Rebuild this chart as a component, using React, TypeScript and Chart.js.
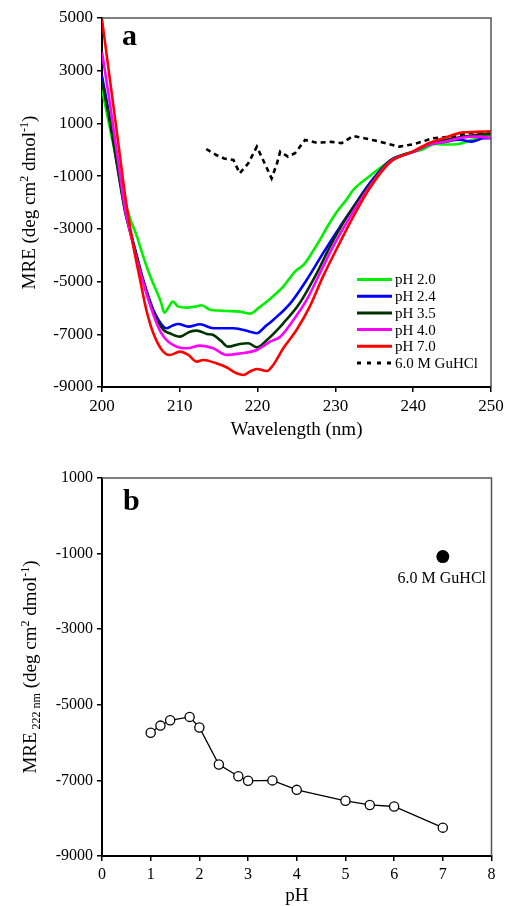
import React, { useEffect, useRef } from "react";
import { Chart, registerables } from "chart.js";

Chart.register(...registerables);

const SERIF = "'Liberation Serif', 'Times New Roman', 'DejaVu Serif', serif";

// ---------------- Panel a: CD spectra ----------------
const PH20_NM = [200, 201, 202, 203, 203.6, 204.5, 205.3, 206.2, 207.2, 207.6, 208, 208.5, 209.1, 209.8, 210.9, 212, 212.8, 213.9, 215, 216, 217.7, 219, 220.3, 221.2, 222.2, 223.3, 224.8, 225.9, 227, 228, 229, 230.2, 231.4, 232.3, 234.3, 237.2, 239, 241.1, 242.8, 244, 245.8, 247.5, 249, 250];
const PH20_MRE = [2300, 850, -600, -2000, -2600, -3300, -4050, -4800, -5500, -5800, -6180, -6000, -5760, -5950, -5990, -5950, -5900, -6070, -6100, -6115, -6140, -6220, -5960, -5760, -5500, -5190, -4620, -4370, -3900, -3420, -2900, -2350, -1900, -1520, -1020, -390, -150, 0, 220, 200, 220, 370, 500, 560];

const PH24_NM = [200, 201, 202, 203, 203.6, 204.5, 205.3, 206.6, 207.9, 208.3, 209, 209.8, 211.1, 212.6, 214.3, 216.9, 219, 219.9, 221, 222, 224.2, 226.3, 228.4, 230.6, 231.9, 234.4, 237, 240, 242, 244, 246, 247.5, 249, 250];
const PH24_MRE = [2800, 1200, -600, -2350, -3043, -4055, -4940, -6077, -6710, -6773, -6680, -6608, -6710, -6620, -6773, -6773, -6900, -6962, -6700, -6457, -5825, -4940, -3930, -2917, -2348, -1272, -420, -80, 200, 300, 380, 308, 436, 440];

const PH35_NM = [200, 201, 202, 203, 203.6, 204.5, 205.3, 206.6, 207.9, 208.7, 210, 211.3, 212.2, 213.5, 214.3, 215.3, 216.2, 217.7, 218.8, 219.9, 221.2, 223.3, 225.4, 227.6, 229.3, 231.5, 233.6, 234.4, 237, 240, 242, 245, 248, 250];
const PH35_MRE = [2600, 1100, -700, -2400, -3100, -4100, -4980, -6150, -6835, -6962, -7090, -6900, -6862, -6988, -7026, -7250, -7470, -7367, -7340, -7495, -7215, -6583, -5825, -4686, -3675, -2538, -1651, -1335, -420, -70, 200, 420, 560, 600];

const PH40_NM = [200, 201, 202, 203, 203.6, 204.5, 205.3, 206.6, 207.6, 208.5, 209.6, 210.9, 212.6, 214.3, 216, 217.7, 219.9, 221.6, 222.9, 224.6, 226.3, 228, 229.7, 231.9, 234.4, 237, 240, 242, 244.1, 246, 248, 250];
const PH40_MRE = [3700, 1800, -300, -2300, -3100, -4200, -5050, -6250, -6950, -7279, -7470, -7530, -7431, -7530, -7785, -7730, -7595, -7280, -7090, -6457, -5698, -4686, -3675, -2538, -1400, -450, -80, 200, 308, 450, 500, 450];

const PH70_NM = [200, 201, 202, 203, 204, 204.9, 205.7, 206.6, 207.7, 208.7, 210, 211.1, 212.2, 213, 214.7, 216, 217.3, 218.2, 219, 219.9, 221.2, 222, 223.3, 225, 226.7, 228.4, 230.2, 232.3, 234.4, 237, 240, 242, 244, 246.2, 248, 250];
const PH70_MRE = [4950, 2700, 460, -1800, -3600, -4940, -6077, -6962, -7595, -7785, -7658, -7785, -8038, -7974, -8100, -8250, -8480, -8544, -8418, -8316, -8392, -8164, -7530, -6836, -5952, -4814, -3737, -2538, -1461, -480, -60, 250, 450, 650, 680, 700];

const GUHCL_NM = [213.4, 214.7, 215.7, 216.9, 217.7, 218.8, 219.9, 220.9, 221.8, 222.5, 222.9, 223.9, 224.8, 226.1, 227.6, 229.5, 230.8, 232.3, 235.1, 238.2, 240.2, 242.5, 245, 247.7, 250];
const GUHCL_MRE = [30, -200, -330, -387, -893, -512, 118, -512, -1083, -512, -70, -262, -133, 372, 270, 300, 250, 524, 350, 120, 220, 436, 497, 660, 630];

const A_LABELS = ["pH 2.0", "pH 2.4", "pH 3.5", "pH 4.0", "pH 7.0", "6.0 M GuHCl"];
const A_COLORS = ["#00f000", "#0000ff", "#003300", "#ff00ff", "#ff0000", "#000000"];
const A_X_TICKS = [200, 210, 220, 230, 240, 250];
const A_Y_TICKS = [-9000, -7000, -5000, -3000, -1000, 1000, 3000, 5000];

// ---------------- Panel b: MRE at 222 nm vs pH ----------------
const B_PH = [1.0, 1.2, 1.4, 1.8, 2.0, 2.4, 2.8, 3.0, 3.5, 4.0, 5.0, 5.5, 6.0, 7.0];
const B_MRE222 = [-5740, -5550, -5410, -5320, -5600, -6580, -6890, -7010, -7000, -7250, -7540, -7650, -7690, -8250];
const B_GUHCL_PH = [7.0];
const B_GUHCL_MRE222 = [-1080];
const B_GUHCL_LABEL = "6.0 M GuHCl";
const B_X_TICKS = [0, 1, 2, 3, 4, 5, 6, 7, 8];
const B_Y_TICKS = [-9000, -7000, -5000, -3000, -1000, 1000];

type Seg = { t: string; size: number; dy?: number };

function drawRotatedRich(ctx: CanvasRenderingContext2D, segs: Seg[], baselineX: number, cy: number) {
  ctx.save();
  ctx.translate(baselineX, cy);
  ctx.rotate(-Math.PI / 2);
  ctx.textAlign = "left";
  ctx.textBaseline = "alphabetic";
  ctx.fillStyle = "#000";
  const widths = segs.map((s) => {
    ctx.font = `${s.size}px ${SERIF}`;
    return ctx.measureText(s.t).width;
  });
  const total = widths.reduce((a, b) => a + b, 0);
  let x = -total / 2;
  segs.forEach((s, i) => {
    ctx.font = `${s.size}px ${SERIF}`;
    ctx.fillText(s.t, x, s.dy || 0);
    x += widths[i];
  });
  ctx.restore();
}

function frameBorders(chart: any) {
  const { ctx, chartArea } = chart;
  ctx.save();
  ctx.strokeStyle = "#555";
  ctx.lineWidth = 1.5;
  ctx.beginPath();
  ctx.moveTo(chartArea.left, chartArea.top);
  ctx.lineTo(chartArea.right, chartArea.top);
  ctx.lineTo(chartArea.right, chartArea.bottom);
  ctx.stroke();
  ctx.restore();
}

function axisOpts(ticks: number[], size: number, fitKey: "width" | "height", fitVal: number) {
  return {
    type: "linear" as const,
    min: ticks[0],
    max: ticks[ticks.length - 1],
    afterBuildTicks: (s: any) => {
      s.ticks = ticks.map((v) => ({ value: v }));
    },
    afterFit: (s: any) => {
      s[fitKey] = fitVal;
    },
    grid: {
      display: true,
      drawOnChartArea: false,
      drawTicks: true,
      tickLength: 5,
      color: "#000",
      lineWidth: 1.5,
    },
    border: { display: true, color: "#000", width: 2 },
    ticks: {
      color: "#000",
      font: { family: SERIF, size },
      padding: 4,
      maxRotation: 0,
      autoSkip: false,
      callback: (v: any) => String(v),
    },
    title: { display: false },
  };
}

function makeChartA(canvas: HTMLCanvasElement) {
  const series = [
    { nm: PH70_NM, mre: PH70_MRE, i: 4 },
    { nm: PH40_NM, mre: PH40_MRE, i: 3 },
    { nm: PH35_NM, mre: PH35_MRE, i: 2 },
    { nm: PH24_NM, mre: PH24_MRE, i: 1 },
    { nm: PH20_NM, mre: PH20_MRE, i: 0 },
  ];
  const datasets: any[] = series.map((s) => ({
    label: A_LABELS[s.i],
    data: s.nm.map((x, k) => ({ x, y: s.mre[k] })),
    borderColor: A_COLORS[s.i],
    borderWidth: 2.6,
    pointRadius: 0,
    fill: false,
    cubicInterpolationMode: "monotone",
  }));
  datasets.push({
    label: A_LABELS[5],
    data: GUHCL_NM.map((x, k) => ({ x, y: GUHCL_MRE[k] })),
    borderColor: A_COLORS[5],
    borderWidth: 2.6,
    borderDash: [5, 4],
    pointRadius: 0,
    fill: false,
    tension: 0,
  });

  const deco = {
    id: "decoA",
    afterDraw(chart: any) {
      const { ctx, chartArea } = chart;
      frameBorders(chart);
      ctx.save();
      ctx.fillStyle = "#000";
      ctx.font = `bold 30px ${SERIF}`;
      ctx.textAlign = "left";
      ctx.textBaseline = "alphabetic";
      ctx.fillText("a", 122, 45);
      const lx0 = 357, lx1 = 392, ly0 = 279.5, dyRow = 16.7;
      A_LABELS.forEach((lab, i) => {
        const y = ly0 + i * dyRow;
        ctx.beginPath();
        ctx.strokeStyle = A_COLORS[i];
        ctx.lineWidth = 3;
        ctx.lineCap = "butt";
        ctx.setLineDash(i === 5 ? [4, 6] : []);
        ctx.moveTo(lx0, y);
        ctx.lineTo(lx1, y);
        ctx.stroke();
        ctx.setLineDash([]);
        ctx.fillStyle = "#000";
        ctx.font = `15px ${SERIF}`;
        ctx.textBaseline = "middle";
        ctx.fillText(lab, lx1 + 3, y + 1);
      });
      ctx.font = `19px ${SERIF}`;
      ctx.textAlign = "center";
      ctx.textBaseline = "middle";
      ctx.fillText("Wavelength (nm)", (chartArea.left + chartArea.right) / 2, 430);
      ctx.restore();
      drawRotatedRich(
        ctx,
        [
          { t: "MRE (deg cm", size: 19 },
          { t: "2", size: 12, dy: -7 },
          { t: " dmol", size: 19 },
          { t: "-1", size: 12, dy: -7 },
          { t: ")", size: 19 },
        ],
        35,
        (chartArea.top + chartArea.bottom) / 2
      );
    },
  };

  return new Chart(canvas, {
    type: "line",
    data: { datasets },
    options: {
      responsive: false,
      animation: false,
      layout: { padding: { top: 18, right: 19, left: 0, bottom: 0 } },
      plugins: { legend: { display: false }, tooltip: { enabled: false } },
      scales: {
        x: axisOpts(A_X_TICKS, 17, "height", 63),
        y: axisOpts(A_Y_TICKS, 17, "width", 102),
      },
    } as any,
    plugins: [deco],
  });
}

function makeChartB(canvas: HTMLCanvasElement) {
  const deco = {
    id: "decoB",
    afterDraw(chart: any) {
      const { ctx, chartArea, scales } = chart;
      frameBorders(chart);
      ctx.save();
      ctx.fillStyle = "#000";
      ctx.font = `bold 30px ${SERIF}`;
      ctx.textAlign = "left";
      ctx.textBaseline = "alphabetic";
      ctx.fillText("b", 123, 60);
      const px = scales.x.getPixelForValue(B_GUHCL_PH[0]);
      const py = scales.y.getPixelForValue(B_GUHCL_MRE222[0]);
      ctx.font = `16px ${SERIF}`;
      ctx.textAlign = "center";
      ctx.textBaseline = "middle";
      ctx.fillText(B_GUHCL_LABEL, px - 1, py + 22);
      ctx.font = `19px ${SERIF}`;
      ctx.fillText("pH", (chartArea.left + chartArea.right) / 2, 446);
      ctx.restore();
      drawRotatedRich(
        ctx,
        [
          { t: "MRE", size: 19 },
          { t: " 222 nm", size: 12, dy: 4 },
          { t: " (deg cm", size: 19 },
          { t: "2", size: 12, dy: -7 },
          { t: " dmol", size: 19 },
          { t: "-1", size: 12, dy: -7 },
          { t: ")", size: 19 },
        ],
        36,
        (chartArea.top + chartArea.bottom) / 2
      );
    },
  };

  return new Chart(canvas, {
    type: "line",
    data: {
      datasets: [
        {
          label: "pH",
          data: B_PH.map((x, k) => ({ x, y: B_MRE222[k] })),
          borderColor: "#000",
          borderWidth: 1.3,
          pointRadius: 4.6,
          pointBorderWidth: 1.3,
          pointBackgroundColor: "#fff",
          pointBorderColor: "#000",
          tension: 0,
          fill: false,
        },
        {
          label: B_GUHCL_LABEL,
          data: B_GUHCL_PH.map((x, k) => ({ x, y: B_GUHCL_MRE222[k] })),
          showLine: false,
          pointRadius: 6.5,
          pointBackgroundColor: "#000",
          pointBorderColor: "#000",
          pointBorderWidth: 0,
        },
      ] as any,
    },
    options: {
      responsive: false,
      animation: false,
      layout: { padding: { top: 28, right: 18.5, left: 0, bottom: 0 } },
      plugins: { legend: { display: false }, tooltip: { enabled: false } },
      scales: {
        x: axisOpts(B_X_TICKS, 16, "height", 50),
        y: axisOpts(B_Y_TICKS, 16, "width", 102),
      },
    } as any,
    plugins: [deco],
  });
}

export default function App() {
  const refA = useRef<HTMLCanvasElement>(null);
  const refB = useRef<HTMLCanvasElement>(null);
  useEffect(() => {
    const a = makeChartA(refA.current!);
    const b = makeChartB(refB.current!);
    return () => {
      a.destroy();
      b.destroy();
    };
  }, []);
  return (
    <div style={{ position: "absolute", left: 0, top: 0, width: 510, height: 906, background: "#fff" }}>
      <canvas ref={refA} width={510} height={450} style={{ position: "absolute", left: 0, top: 0, width: 510, height: 450 }} />
      <canvas ref={refB} width={510} height={456} style={{ position: "absolute", left: 0, top: 450, width: 510, height: 456 }} />
    </div>
  );
}
